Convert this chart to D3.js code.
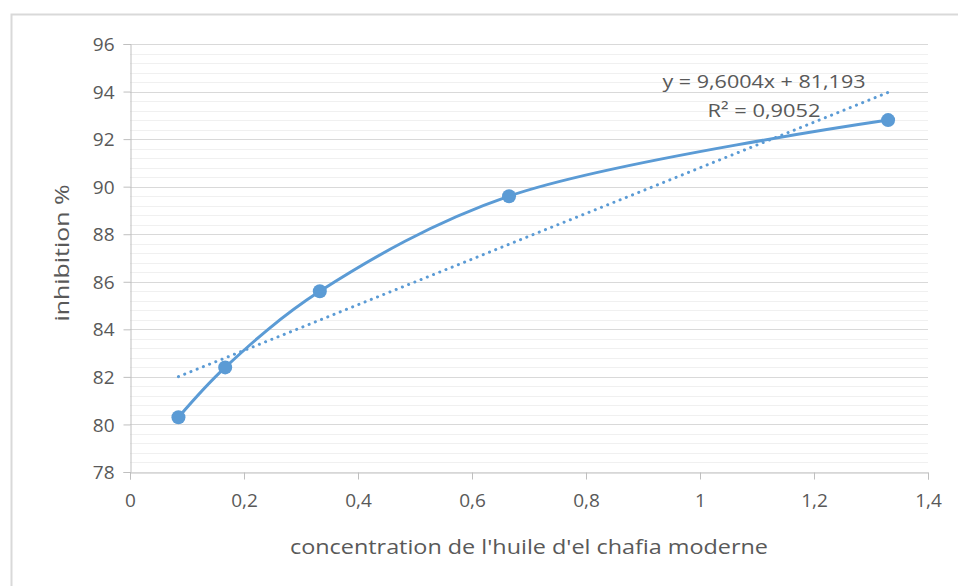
<!DOCTYPE html>
<html><head><meta charset="utf-8">
<script src="https://cdn.jsdelivr.net/npm/d3@7"></script>
<style>
body{margin:0;background:#fff;}
text{font-family:"Open Sans",sans-serif;fill:#595959;}
</style></head>
<body><svg id="c" width="958" height="586"></svg>
<script>
const concentrations = [0.085, 0.167, 0.333, 0.665, 1.33];
const inhibition = [80.3, 82.4, 85.6, 89.6, 92.8];
const xTicks = [0, 0.2, 0.4, 0.6, 0.8, 1, 1.2, 1.4];
const yTicks = [78, 80, 82, 84, 86, 88, 90, 92, 94, 96];
const trendSlope = 9.6004, trendIntercept = 81.193;
const equationLabel = "y = 9,6004x + 81,193";
const r2Label = "R² = 0,9052";
const xTitle = "concentration de l'huile d'el chafia moderne";
const yTitle = "inhibition %";

const svg = d3.select("#c");
const fmt = v => String(v).replace(".", ",");
const x = d3.scaleLinear().domain([0, 1.4]).range([130, 928]);
const y = d3.scaleLinear().domain([78, 96]).range([472, 44]);

// frame
svg.append("rect").attr("x", 11.5).attr("y", 14.5).attr("width", 960).attr("height", 600)
  .attr("fill", "none").attr("stroke", "#d9d9d9").attr("stroke-width", 2);

// minor gridlines
const minor = d3.range(78, 96.001, 0.4);
svg.append("g").selectAll("line").data(minor).join("line")
  .attr("x1", x(0)).attr("x2", x(1.4)).attr("y1", d => Math.round(y(d)) + 0.5).attr("y2", d => Math.round(y(d)) + 0.5)
  .attr("stroke", "#f0f0f0").attr("stroke-width", 1);
// major gridlines
svg.append("g").selectAll("line").data(yTicks.slice(1)).join("line")
  .attr("x1", x(0)).attr("x2", x(1.4)).attr("y1", d => Math.round(y(d)) + 0.5).attr("y2", d => Math.round(y(d)) + 0.5)
  .attr("stroke", "#d9d9d9").attr("stroke-width", 1);

// axes
const xAxis = svg.append("g").attr("transform", `translate(0,${Math.round(y(78)) + 0.5})`)
  .call(d3.axisBottom(x).tickValues(xTicks).tickFormat(fmt).tickSize(7).tickPadding(14));
const yAxis = svg.append("g").attr("transform", `translate(${Math.round(x(0)) + 0.5},0)`)
  .call(d3.axisLeft(y).tickValues(yTicks).tickFormat(fmt).tickSize(7).tickPadding(9));
[xAxis, yAxis].forEach(a => {
  a.select(".domain").attr("stroke", "#bfbfbf");
  a.selectAll(".tick line").attr("stroke", "#bfbfbf");
  a.selectAll(".tick text").attr("fill", "#595959").style("font-size", "19px").style("font-family", '"Open Sans",sans-serif');
});
yAxis.selectAll(".tick text").attr("dy", "0.35em");

// trendline
const x0 = concentrations[0], x1 = concentrations[concentrations.length - 1];
svg.append("line")
  .attr("x1", x(x0)).attr("y1", y(trendSlope * x0 + trendIntercept))
  .attr("x2", x(x1)).attr("y2", y(trendSlope * x1 + trendIntercept))
  .attr("stroke", "#5b9bd5").attr("stroke-width", 3).attr("stroke-linecap", "round")
  .attr("stroke-dasharray", "0.1 6.6");

// smoothed line
const pts = concentrations.map((c, i) => [c, inhibition[i]]);
svg.append("path").datum(pts)
  .attr("d", d3.line().x(d => x(d[0])).y(d => y(d[1])).curve(d3.curveCatmullRom.alpha(0.5)))
  .attr("fill", "none").attr("stroke", "#5b9bd5").attr("stroke-width", 3).attr("stroke-linecap", "round");
svg.append("g").selectAll("circle").data(pts).join("circle")
  .attr("cx", d => x(d[0])).attr("cy", d => y(d[1])).attr("r", 7).attr("fill", "#5b9bd5");

// equation
svg.append("text").attr("x", 764).attr("y", 88).attr("text-anchor", "middle").style("font-size", "19px")
  .attr("textLength", 203).attr("lengthAdjust", "spacingAndGlyphs").text(equationLabel);
svg.append("text").attr("x", 764).attr("y", 117).attr("text-anchor", "middle").style("font-size", "19px")
  .attr("textLength", 113).attr("lengthAdjust", "spacingAndGlyphs").text(r2Label);

// titles
svg.append("text").attr("x", 529).attr("y", 554).attr("text-anchor", "middle").style("font-size", "20px")
  .attr("textLength", 478).attr("lengthAdjust", "spacingAndGlyphs").text(xTitle);
svg.append("text").attr("transform", "translate(69,253) rotate(-90)").attr("text-anchor", "middle").style("font-size", "20px")
  .attr("textLength", 137).attr("lengthAdjust", "spacingAndGlyphs").text(yTitle);
</script></body></html>
